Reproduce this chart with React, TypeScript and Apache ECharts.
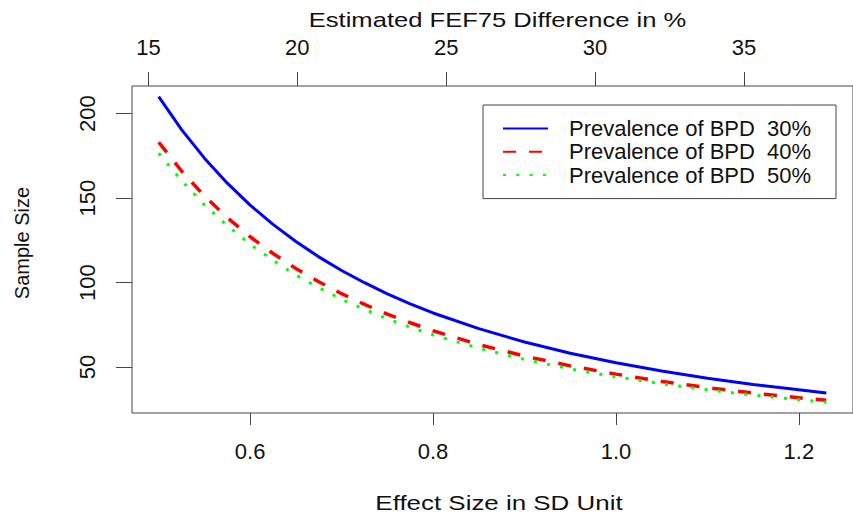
import React, { useEffect, useRef } from "react";
import * as echarts from "echarts";

// Effect size (SD units) at which the curves were read
const effectSize = [0.5, 0.525, 0.55, 0.575, 0.6, 0.625, 0.65, 0.675, 0.7, 0.725, 0.75, 0.775, 0.8, 0.85, 0.9, 0.95, 1.0, 1.05, 1.1, 1.15, 1.2, 1.23];
// Sample size
const prev30 = [210, 190.5, 173.6, 158.8, 145.8, 134.4, 124.3, 115.2, 107.1, 99.9, 93.3, 87.4, 82.0, 72.7, 64.8, 58.2, 52.5, 47.6, 43.4, 39.7, 36.5, 34.7];
const prev40 = [183, 166.0, 151.2, 138.4, 127.1, 117.2, 108.3, 100.5, 93.4, 87.1, 81.3, 76.2, 71.5, 63.3, 56.5, 50.7, 45.8, 41.5, 37.8, 34.6, 31.8, 30.3];
const prev50 = [176.5, 160.4, 145.9, 133.7, 122.6, 113.2, 104.4, 97.0, 90.1, 84.1, 78.5, 73.6, 69.0, 61.1, 54.5, 48.9, 44.2, 40.1, 36.5, 33.4, 30.7, 29.2];

const seriesNames = ["Prevalence of BPD  30%", "Prevalence of BPD  40%", "Prevalence of BPD  50%"];

const bottomTicks = [0.6, 0.8, 1.0, 1.2];
const topTicks = [15, 20, 25, 30, 35];
const leftTicks = [50, 100, 150, 200];

const FONT = "Liberation Sans, Arial, Helvetica, sans-serif";

export default function App() {
  const ref = useRef<HTMLDivElement>(null);

  useEffect(() => {
    if (!ref.current) return;
    const chart = echarts.init(ref.current, null, { renderer: "svg" });
    const pairs = (ys: number[]) => effectSize.map((x, i) => [x, ys[i]]);

    const axisLabelBase = {
      color: "#111",
      fontFamily: FONT,
      fontSize: 22,
    };

    chart.setOption({
      animation: false,
      backgroundColor: "#fff",
      textStyle: { fontFamily: FONT },
      grid: {
        left: 132,
        top: 86,
        right: -9.5,
        bottom: 103,
        show: true,
        borderColor: "#444",
        borderWidth: 1,
        backgroundColor: "transparent",
      },
      legend: {
        orient: "vertical",
        left: 483,
        top: 105,
        data: seriesNames,
        itemWidth: 45,
        itemHeight: 14,
        itemGap: 0.3,
        padding: [12, 8, 12, 19],
        borderColor: "#444",
        borderWidth: 1,
        backgroundColor: "#fff",
        itemStyle: { opacity: 0, borderWidth: 0 },
        textStyle: {
          fontFamily: FONT,
          fontSize: 22,
          color: "#111",
          lineHeight: 23,
          width: 259,
          padding: [0, 0, 0, 16],
        },
      },
      xAxis: [
        {
          type: "value",
          position: "bottom",
          min: 0.4708,
          max: 1.2592,
          axisLine: { show: false },
          splitLine: { show: false },
          axisTick: { show: true, length: 12, customValues: bottomTicks, lineStyle: { color: "#444" } },
          axisLabel: {
            ...axisLabelBase,
            margin: 27,
            customValues: bottomTicks,
            formatter: (v: number) => v.toFixed(1),
          },
        },
        {
          type: "value",
          position: "top",
          min: 14.45,
          max: 38.66,
          axisLine: { show: false },
          splitLine: { show: false },
          axisTick: { show: true, length: 14, customValues: topTicks, lineStyle: { color: "#444" } },
          axisLabel: {
            ...axisLabelBase,
            margin: 28,
            customValues: topTicks,
            formatter: (v: number) => String(v),
          },
        },
      ],
      yAxis: {
        type: "value",
        min: 22.8,
        max: 216.3,
        axisLine: { show: false },
        splitLine: { show: false },
        axisTick: { show: true, length: 16, customValues: leftTicks, lineStyle: { color: "#444" } },
        axisLabel: {
          ...axisLabelBase,
          rotate: 90,
          margin: 34,
          customValues: leftTicks,
          formatter: (v: number) => String(v),
        },
      },
      graphic: [
        {
          type: "text",
          x: 497.5,
          y: 20,
          scaleX: 1.218,
          style: {
            text: "Estimated FEF75 Difference in %",
            fontFamily: FONT,
            fontSize: 21,
            fill: "#111",
            align: "center",
            verticalAlign: "middle",
            textAlign: "center",
            textVerticalAlign: "middle",
          },
        },
        {
          type: "text",
          x: 499,
          y: 502.5,
          scaleX: 1.235,
          style: {
            text: "Effect Size in SD Unit",
            fontFamily: FONT,
            fontSize: 21,
            fill: "#111",
            align: "center",
            verticalAlign: "middle",
            textAlign: "center",
            textVerticalAlign: "middle",
          },
        },
        {
          type: "text",
          x: 22,
          y: 243,
          rotation: Math.PI / 2,
          style: {
            text: "Sample Size",
            fontFamily: FONT,
            fontSize: 20,
            fill: "#111",
            align: "center",
            verticalAlign: "middle",
            textAlign: "center",
            textVerticalAlign: "middle",
          },
        },
      ],
      series: [
        {
          name: seriesNames[0],
          type: "line",
          data: pairs(prev30),
          symbol: "none",
          showSymbol: false,
          lineStyle: { color: "#0000ff", width: 3 },
          itemStyle: { color: "#0000ff" },
        },
        {
          name: seriesNames[1],
          type: "line",
          data: pairs(prev40),
          symbol: "none",
          showSymbol: false,
          lineStyle: { color: "#ff0000", width: 3.5, type: [13, 13] },
          itemStyle: { color: "#ff0000" },
        },
        {
          name: seriesNames[2],
          type: "line",
          data: pairs(prev50),
          symbol: "none",
          showSymbol: false,
          lineStyle: { color: "#00ff00", width: 3, type: [3, 10.3] },
          itemStyle: { color: "#00ff00" },
        },
      ],
    });

    return () => chart.dispose();
  }, []);

  return (
    <div
      ref={ref}
      style={{ position: "absolute", left: 0, top: 0, width: 853, height: 516 }}
    />
  );
}
